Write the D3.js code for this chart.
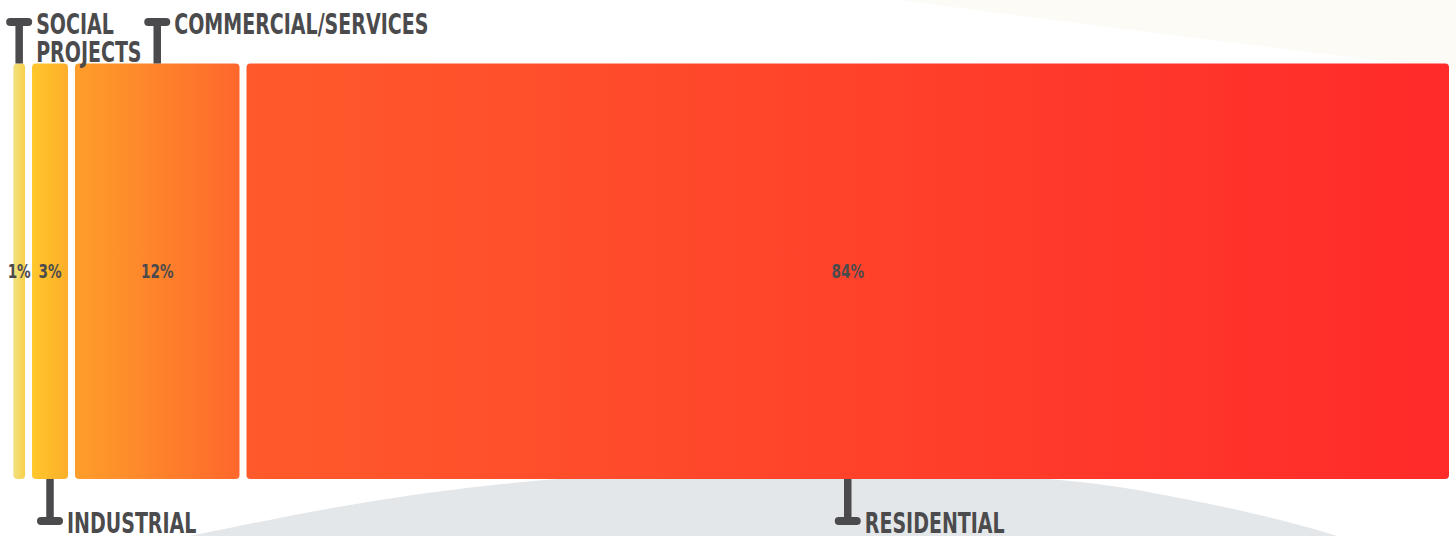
<!DOCTYPE html>
<html>
<head>
<meta charset="utf-8">
<script src="https://cdn.jsdelivr.net/npm/d3@7"></script>
<style>
  html, body { margin: 0; padding: 0; background: #ffffff; overflow: hidden; }
  svg { display: block; }
  .lbl, .pct { font-family: "Liberation Sans Narrow", "DejaVu Sans Condensed", "Arial Narrow", sans-serif; font-weight: 700; fill: #4b4b4d; }
</style>
</head>
<body>
<svg id="chart" width="1456" height="536"></svg>
<script>
// ---- data ----
const categories = ["Social Projects", "Industrial", "Commercial/Services", "Residential"];
const categoryLines = [["SOCIAL", "PROJECTS"], ["INDUSTRIAL"], ["COMMERCIAL/SERVICES"], ["RESIDENTIAL"]];
const shares = [0.83, 2.54, 11.63, 85.0];           // share of total (%)
const shareLabels = ["1%", "3%", "12%", "84%"];    // printed labels
const labelSide = ["top", "bottom", "top", "bottom"];
const gradientStops = [
  ["#f1e282", "#f8cf47"],
  ["#ffc72b", "#fdae2a"],
  ["#fe9e2a", "#ff672c"],
  ["#ff5a2b", "#ff2a2a"]
];

(function () {
// ---- layout ----
const mLeft = 13.3, mRight = 1449, mTop = 63.5, mBottom = 479, gap = 7;
const svg = d3.select("#chart");
const defs = svg.append("defs");

// background decoration
svg.append("path")
  .attr("d", "M900,0 C1050,20 1250,45 1456,70 L1456,0 Z")
  .attr("fill", "#fcfbf6");
const bgPts = [[120,552],[190,536],[380,500],[545,480],[800,468],[1080,482],[1200,502],[1280,520],[1337,536],[1370,548]];
svg.append("path")
  .attr("d", d3.line().curve(d3.curveCatmullRom)(bgPts) + "L1370,560L120,560Z")
  .attr("fill", "#e4e7ea");

const total = d3.sum(shares);
const barSpace = (mRight - mLeft) - gap * (shares.length - 1);
const w = d3.scaleLinear().domain([0, total]).range([0, barSpace]);
const cum = [0, ...d3.cumsum(shares)];
const bars = shares.map((v, i) => ({
  i, v,
  x0: mLeft + w(cum[i]) + gap * i,
  x1: mLeft + w(cum[i]) + gap * i + w(v)
}));
const y = d3.scaleLinear().domain([0, 1]).range([mBottom, mTop]);

bars.forEach(b => {
  const g = defs.append("linearGradient").attr("id", "grad" + b.i)
    .attr("x1", 0).attr("x2", 1).attr("y1", 0).attr("y2", 0);
  g.append("stop").attr("offset", 0).attr("stop-color", gradientStops[b.i][0]);
  g.append("stop").attr("offset", 1).attr("stop-color", gradientStops[b.i][1]);
});

svg.append("g").selectAll("rect").data(bars).join("rect")
  .attr("x", d => d.x0)
  .attr("y", y(1))
  .attr("width", d => d.x1 - d.x0)
  .attr("height", y(0) - y(1))
  .attr("rx", 4).attr("ry", 4)
  .attr("fill", d => `url(#grad${d.i})`);

// percentages
const condense = 0.755;
svg.append("g").selectAll("text").data(bars).join("text")
  .attr("class", "pct")
  .attr("text-anchor", "middle")
  .attr("font-size", 20)
  .attr("transform", d => `translate(${(d.x0 + d.x1) / 2},${(y(0) + y(1)) / 2 + 7}) scale(${condense},1)`)
  .text(d => shareLabels[d.i]);

// T markers and category labels
const ink = "#4b4b4d";
const mg = svg.append("g");
bars.forEach(b => {
  const cx = (b.x0 + b.x1) / 2;
  const isTop = labelSide[b.i] === "top";
  const capY = isTop ? 22 : 521;
  const stemEnd = isTop ? y(1) : y(0);
  mg.append("line").attr("x1", cx).attr("x2", cx).attr("y1", capY).attr("y2", stemEnd)
    .attr("stroke", ink).attr("stroke-width", 7.5);
  mg.append("line").attr("x1", cx - 9).attr("x2", cx + 9).attr("y1", capY).attr("y2", capY)
    .attr("stroke", ink).attr("stroke-width", 8).attr("stroke-linecap", "round");
  const tx = cx + 17;
  const lines = categoryLines[b.i];
  lines.forEach((ln, k) => {
    const base = isTop ? 34 + k * 27.5 : 533;
    mg.append("text").attr("class", "lbl")
      .attr("font-size", 28)
      .attr("transform", `translate(${tx},${base}) scale(${condense},1)`)
      .text(ln);
  });
});
})();
</script>
</body>
</html>
